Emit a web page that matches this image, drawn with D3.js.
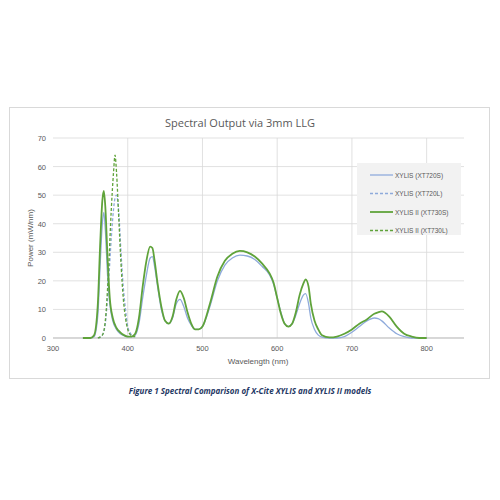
<!DOCTYPE html>
<html><head><meta charset="utf-8">
<script src="https://cdn.jsdelivr.net/npm/d3@7"></script>
<style>body{margin:0;background:#fff}svg{display:block}</style>
</head><body><svg id="c" width="500" height="500"></svg>
<script>
const xTicks=[300,400,500,600,700,800];
const yTicks=[0,10,20,30,40,50,60,70];
const wlS=[340,350,355,360,363,366,368,370,373,376,380,385,390,395,400,405,410,415,420,425,430,433,436,440,445,450,455,460,465,470,475,480,485,490,495,500,510,520,530,540,550,560,570,580,590,595,600,605,610,615,620,625,630,635,638,642,645,650,655,660,670,680,690,700,710,720,730,735,740,750,760,770,780,790,800];
const blueS=[0,0,0.5,8,25,40,44,38,22,12,6,3,1.5,0.8,0.5,0.5,1,5,14,22,28,28.5,25,18,10,6,5,7,12,13.5,11,7,4.5,3,3,4,11,20,25.5,28,29,28.7,27.5,25,22,19,14,9,5,4,5,8,12,15,15.5,12,7,3,1,0.3,0,0,0.5,2,4,6,7,6.8,6,3.5,1.5,0.5,0,0,0];
const greenS=[0,0,1,12,32,48,51.5,46,28,14,7,3.5,2,1,0.5,0.5,1.5,7,18,27,32,31.5,27,19,11,6,5,7.5,13.5,16.5,14,9,5,3,3,4,12,21.5,27,29.5,30.5,30,28.5,26,22.5,19.5,14,8.5,5,4,5,9,15,19,20.5,18,12,6,3,1,0.2,0.5,1.5,3,5,6.5,8.5,9,9.3,7.5,4,1.5,0.5,0,0];
const wlL=[360,366,370,374,378,381,383,385,388,391,394,397,400,404,408,410];
const blueL=[0,1,5,18,35,45,49,50,44,30,18,10,4,1.5,0.5,0.5];
const greenL=[0,1,6,22,45,58,64,58,42,26,14,7,3,1,0.5,0.5];
const series=[
 {name:"XYLIS (XT720S)",wl:wlS,v:blueS,c:"#8eaadb",w:1.3,d:null},
 {name:"XYLIS (XT720L)",wl:wlL,v:blueL,c:"#8eaadb",w:1.3,d:"3,2"},
 {name:"XYLIS II (XT730S)",wl:wlS,v:greenS,c:"#5fa33a",w:1.8,d:null},
 {name:"XYLIS II (XT730L)",wl:wlL,v:greenL,c:"#5fa33a",w:1.3,d:"3,2"}];
const svg=d3.select("#c");
svg.append("rect").attr("x",9.5).attr("y",107.5).attr("width",480).attr("height",271).attr("fill","#fff").attr("stroke","#d9d9d9");
const x=d3.scaleLinear().domain([300,850]).range([53,464]);
const y=d3.scaleLinear().domain([0,70]).range([338,138]);
const g=svg.append("g");
g.selectAll(".hg").data(yTicks).join("line").attr("x1",53).attr("x2",464).attr("y1",d=>y(d)).attr("y2",d=>y(d)).attr("stroke","#d9d9d9").attr("stroke-width",0.8);
g.selectAll(".vg").data(xTicks.slice(1)).join("line").attr("x1",d=>x(d)).attr("x2",d=>x(d)).attr("y1",138).attr("y2",338).attr("stroke","#d9d9d9").attr("stroke-width",0.8);
g.append("line").attr("x1",53).attr("x2",464).attr("y1",338).attr("y2",338).attr("stroke","#bfbfbf");
const tf="'Liberation Sans',Arial,sans-serif";
g.selectAll(".yt").data(yTicks).join("text").attr("x",46).attr("y",d=>y(d)+3).attr("text-anchor","end").attr("font-size",7.5).attr("fill","#595959").attr("font-family",tf).text(d=>d);
g.selectAll(".xt").data(xTicks).join("text").attr("x",d=>x(d)).attr("y",351).attr("text-anchor","middle").attr("font-size",7.5).attr("fill","#595959").attr("font-family",tf).text(d=>d);
const line=d3.line().x(d=>x(d[0])).y(d=>y(d[1])).curve(d3.curveMonotoneX);
series.forEach(s=>{
 g.append("path").attr("d",line(s.wl.map((w,i)=>[w,s.v[i]]))).attr("fill","none").attr("stroke",s.c).attr("stroke-width",s.w).attr("stroke-dasharray",s.d);
});
svg.append("text").attr("x",240).attr("y",127).attr("text-anchor","middle").attr("font-size",11).attr("fill","#595959").attr("font-family","'Open Sans',sans-serif").text("Spectral Output via 3mm LLG");
svg.append("text").attr("x",258).attr("y",364).attr("text-anchor","middle").attr("font-size",8).attr("fill","#595959").attr("font-family",tf).text("Wavelength (nm)");
svg.append("text").attr("transform","translate(33,238) rotate(-90)").attr("text-anchor","middle").attr("font-size",8).attr("fill","#595959").attr("font-family",tf).text("Power (mW/nm)");
svg.append("rect").attr("x",357).attr("y",163).attr("width",104).attr("height",72).attr("fill","#f2f2f2");
series.forEach((s,i)=>{
 const yy=175+i*18.5;
 svg.append("line").attr("x1",370).attr("x2",393).attr("y1",yy).attr("y2",yy).attr("stroke",s.c).attr("stroke-width",s.w).attr("stroke-dasharray",s.d);
 svg.append("text").attr("x",395).attr("y",yy+2.5).attr("font-size",6.5).attr("fill","#595959").attr("font-family",tf).text(s.name);
});
svg.append("text").attr("x",250).attr("y",394).attr("text-anchor","middle").attr("font-size",8).attr("font-weight","bold").attr("font-style","italic").attr("fill","#1f3864").attr("font-family","'Open Sans',sans-serif").text("Figure 1 Spectral Comparison of X-Cite XYLIS and XYLIS II models");
</script></body></html>
